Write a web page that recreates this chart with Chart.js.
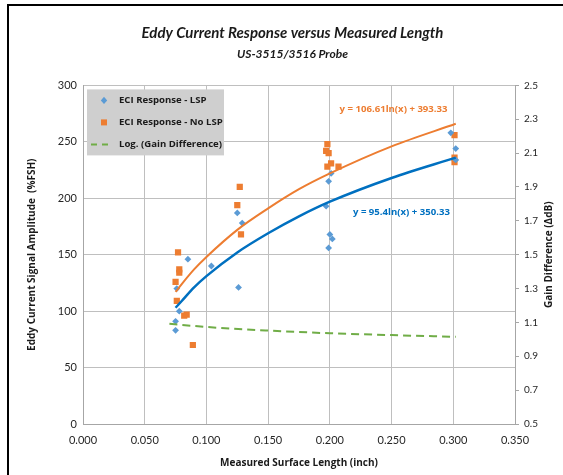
<!DOCTYPE html>
<html>
<head>
<meta charset="utf-8">
<script src="https://cdn.jsdelivr.net/npm/chart.js@4.4.1/dist/chart.umd.min.js"></script>
<style>
  html, body { margin: 0; padding: 0; background: #fff; overflow: hidden; }
  .frame { position: absolute; left: 7px; top: 4px; width: 640px; height: 640px; border: 2px solid #000; }
  .wrap { position: absolute; left: 0; top: 0; width: 563px; height: 475px; }
</style>
</head>
<body>
<div class="frame"></div>
<div class="wrap"><canvas class="js-eddy"></canvas></div>
<script>
// ECI Response - LSP (blue diamonds)
const lspLength = [0.075, 0.075, 0.076, 0.078, 0.085, 0.104, 0.125, 0.126, 0.129,
  0.197, 0.199, 0.199, 0.200, 0.201, 0.202, 0.298, 0.302, 0.302];
const lspAmplitude = [83, 91, 120, 100, 146, 140, 187, 121, 178,
  193, 156, 215, 168, 222, 164, 258, 244, 234];

// ECI Response - No LSP (orange squares)
const noLspLength = [0.075, 0.076, 0.077, 0.078, 0.078, 0.082, 0.084, 0.089, 0.125, 0.127, 0.128,
  0.197, 0.198, 0.198, 0.199, 0.201, 0.207, 0.301, 0.301, 0.301];
const noLspAmplitude = [126, 109, 152, 137, 134, 96, 97, 70, 194, 210, 168,
  242, 248, 228, 240, 231, 228, 256, 236, 232];

// log trendlines
const trendLength = [0.075, 0.08, 0.09, 0.1, 0.125, 0.15, 0.175, 0.2, 0.25, 0.302];
const lspTrend = [103, 109, 121, 131, 152, 169, 184, 197, 218, 236];
const noLspTrend = [117, 124, 137, 148, 172, 191, 208, 222, 246, 266];

// Log. (Gain Difference), right axis
const gainLength = [0.070, 0.1, 0.15, 0.2, 0.25, 0.302];
const gainTrend = [1.092, 1.073, 1.052, 1.036, 1.025, 1.015];

const lspEquation = "y = 95.4ln(x) + 350.33";
const noLspEquation = "y = 106.61ln(x) + 393.33";
const legendLabels = ["ECI Response - LSP", "ECI Response - No LSP", "Log. (Gain Difference)"];

const blue = "#5b9bd5";
const blueLine = "#0070c0";
const orange = "#ed7d31";
const green = "#70ad47";
const font = "Lato";
const boldFont = "'Open Sans'";

const pairs = function (xs, ys) {
  return xs.map((x, i) => ({ x: x, y: ys[i] }));
};

const diamond = function (ctx, x, y, r) {
  ctx.beginPath();
  ctx.moveTo(x, y - r * 1.15);
  ctx.lineTo(x + r, y);
  ctx.lineTo(x, y + r * 1.15);
  ctx.lineTo(x - r, y);
  ctx.closePath();
  ctx.fill();
};

const extras = {
  id: "extras",
  afterDatasetsDraw(chart) {
    const ctx = chart.ctx;
    const area = chart.chartArea;
    const sx = chart.scales.x;
    const sy = chart.scales.y;

    // legend box
    const lx = area.left + 4;
    const ly = area.top + 4;
    ctx.save();
    ctx.fillStyle = "#cfcfcf";
    ctx.fillRect(lx, ly, 137, 66);
    ctx.font = "bold 9.6px " + boldFont;
    ctx.textBaseline = "middle";
    ctx.fillStyle = "#1a1a1a";
    const rows = [ly + 11, ly + 33, ly + 55];
    legendLabels.forEach((t, i) => ctx.fillText(t, lx + 32, rows[i]));
    ctx.fillStyle = blue;
    diamond(ctx, lx + 17, rows[0], 3.2);
    ctx.fillStyle = orange;
    ctx.fillRect(lx + 14, rows[1] - 3, 6, 6);
    ctx.strokeStyle = green;
    ctx.lineWidth = 2;
    ctx.setLineDash([6, 5]);
    ctx.beginPath();
    ctx.moveTo(lx + 4, rows[2]);
    ctx.lineTo(lx + 26, rows[2]);
    ctx.stroke();
    ctx.setLineDash([]);

    // trendline equations
    ctx.font = "bold 9.6px " + boldFont;
    ctx.textAlign = "center";
    ctx.fillStyle = orange;
    ctx.fillText(noLspEquation, sx.getPixelForValue(0.2516), sy.getPixelForValue(279));
    ctx.fillStyle = blueLine;
    ctx.fillText(lspEquation, sx.getPixelForValue(0.258), sy.getPixelForValue(188));

    // right axis title, reading bottom to top
    ctx.font = "bold 10px " + boldFont;
    ctx.fillStyle = "#1a1a1a";
    ctx.translate(549, (area.top + area.bottom) / 2);
    ctx.rotate(-Math.PI / 2);
    ctx.fillText("Gain Difference (\u0394dB)", 0, 0);
    ctx.restore();
  },
};

const chartEddy = function () {
  const canvas = document.querySelector(".js-eddy");

  new Chart(canvas, {
    type: "scatter",
    data: {
      datasets: [
        {
          label: "Log. (ECI Response - No LSP)",
          data: pairs(trendLength, noLspTrend),
          showLine: true,
          borderColor: orange,
          borderWidth: 2,
          pointRadius: 0,
          cubicInterpolationMode: "monotone",
          yAxisID: "y",
        },
        {
          label: "Log. (ECI Response - LSP)",
          data: pairs(trendLength, lspTrend),
          showLine: true,
          borderColor: blueLine,
          borderWidth: 2.5,
          pointRadius: 0,
          cubicInterpolationMode: "monotone",
          yAxisID: "y",
        },
        {
          label: "Log. (Gain Difference)",
          data: pairs(gainLength, gainTrend),
          showLine: true,
          borderColor: green,
          borderWidth: 2,
          borderDash: [8, 5],
          pointRadius: 0,
          cubicInterpolationMode: "monotone",
          yAxisID: "y2",
        },
        {
          label: "ECI Response - LSP",
          data: pairs(lspLength, lspAmplitude),
          pointStyle: "rectRot",
          pointRadius: 3.4,
          backgroundColor: blue,
          borderWidth: 0,
          yAxisID: "y",
        },
        {
          label: "ECI Response - No LSP",
          data: pairs(noLspLength, noLspAmplitude),
          pointStyle: "rect",
          pointRadius: 4.4,
          backgroundColor: orange,
          borderWidth: 0,
          yAxisID: "y",
        },
      ],
    },
    options: {
      responsive: true,
      maintainAspectRatio: false,
      animation: false,
      layout: {
        padding: { top: 24, left: 22, right: 0, bottom: 0 },
      },
      scales: {
        x: {
          type: "linear",
          min: 0,
          max: 0.35,
          afterFit: (s) => { s.height = 51; },
          ticks: {
            stepSize: 0.05,
            padding: 10,
            color: "#262626",
            font: { family: font, size: 11 },
            callback: (v) => v.toFixed(3),
          },
          grid: { color: "#bfbfbf", drawTicks: false },
          border: { color: "#a6a6a6" },
          title: {
            display: true,
            text: "Measured Surface Length (inch)",
            color: "#1a1a1a",
            font: { family: boldFont, size: 10, weight: "bold" },
            padding: { top: 4, bottom: 6 },
          },
        },
        y: {
          position: "left",
          min: 0,
          max: 300,
          afterFit: (s) => { s.width = 61; },
          ticks: {
            stepSize: 50,
            padding: 6,
            color: "#262626",
            font: { family: font, size: 11 },
          },
          grid: { color: "#bfbfbf", drawTicks: false },
          border: { color: "#a6a6a6" },
          title: {
            display: true,
            text: "Eddy Current Signal Amplitude  (%FSH)",
            color: "#1a1a1a",
            font: { family: boldFont, size: 10, weight: "bold" },
          },
        },
        y2: {
          position: "right",
          min: 0.5,
          max: 2.5,
          afterFit: (s) => { s.width = 48; },
          ticks: {
            stepSize: 0.2,
            padding: 5,
            color: "#262626",
            font: { family: font, size: 10 },
            callback: (v) => v.toFixed(1),
          },
          grid: { drawOnChartArea: false, drawTicks: true, tickLength: 4, color: "#a6a6a6" },
          border: { color: "#a6a6a6" },
        },
      },
      plugins: {
        legend: { display: false },
        tooltip: { enabled: false },
        title: {
          display: true,
          text: "Eddy Current Response versus Measured Length",
          color: "#1a1a1a",
          font: { family: font, size: 15, weight: "bold", style: "italic" },
          padding: { top: 0, bottom: 2 },
        },
        subtitle: {
          display: true,
          text: "US-3515/3516 Probe",
          color: "#1a1a1a",
          font: { family: font, size: 12, weight: "bold", style: "italic" },
          padding: { top: 3, bottom: 24 },
        },
      },
    },
    plugins: [extras],
  });
};

const init = function () {
  chartEddy();
};

document.addEventListener("DOMContentLoaded", init);
</script>
</body>
</html>
